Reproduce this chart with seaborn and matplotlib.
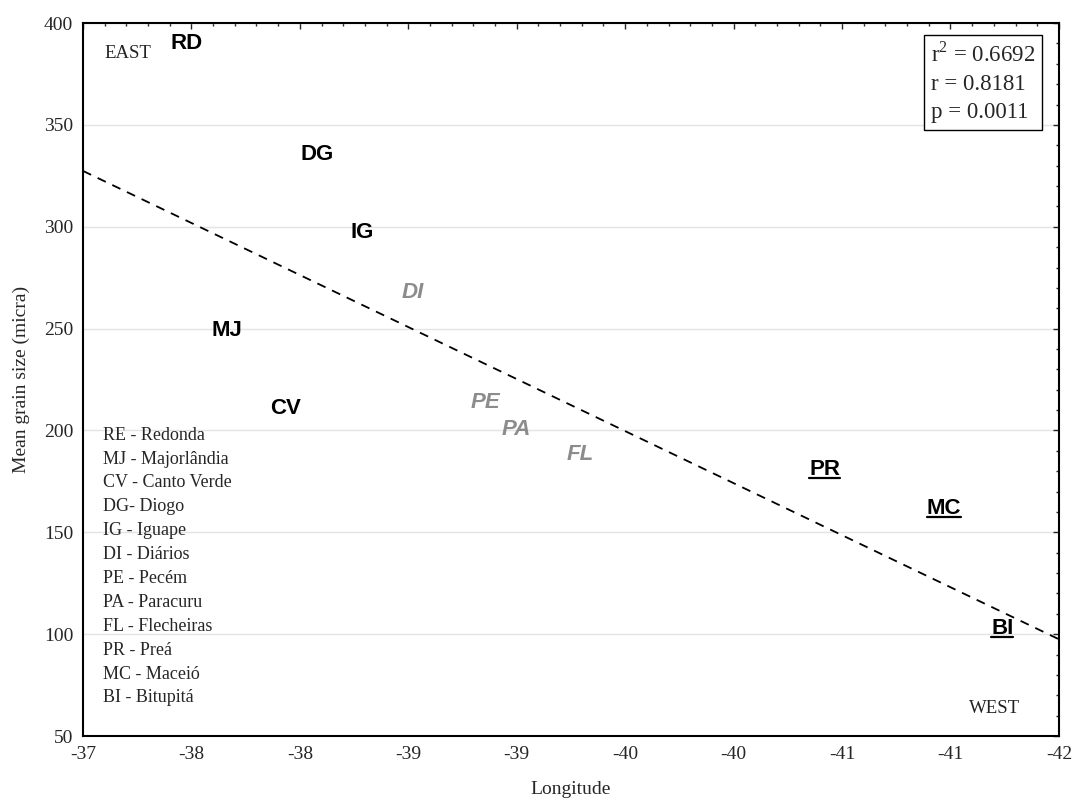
import numpy as np
import pandas as pd
import matplotlib
matplotlib.use("Agg")
import matplotlib.pyplot as plt
from matplotlib.lines import Line2D
from matplotlib.ticker import AutoMinorLocator
import seaborn as sns

# Данные: долгота и средний размер зерна по пляжам
codes = ['RD', 'MJ', 'CV', 'DG', 'IG', 'DI', 'PE', 'PA', 'FL', 'PR', 'MC', 'BI']
longitude = [-37.53, -37.74, -38.04, -38.20, -38.43, -38.69, -39.06, -39.22, -39.55, -40.80, -41.41, -41.71]
grain_size = [383.2, 242.5, 203.8, 328.8, 290.5, 261.1, 206.7, 193.5, 181.2, 173.9, 154.8, 96.0]
group = ['east', 'east', 'east', 'east', 'east', 'mid', 'mid', 'mid', 'mid', 'west', 'west', 'west']

legend_lines = ['RE - Redonda', 'MJ - Majorlândia', 'CV - Canto Verde', 'DG- Diogo',
                'IG - Iguape', 'DI - Diários', 'PE - Pecém', 'PA - Paracuru',
                'FL - Flecheiras', 'PR - Preá', 'MC - Maceió', 'BI - Bitupitá']
x_ticks = [-37 - 5 * i / 9 for i in range(10)]
x_tick_labels = ['-37', '-38', '-38', '-39', '-39', '-40', '-40', '-41', '-41', '-42']
y_ticks = [50, 100, 150, 200, 250, 300, 350, 400]
stats_text = 'r$^2$ = 0.6692\nr = 0.8181\np = 0.0011'

df = pd.DataFrame({'lon': longitude, 'size': grain_size, 'code': codes, 'group': group})

sns.set_style('white')
plt.rcParams['font.family'] = ['Liberation Serif', 'DejaVu Serif']
plt.rcParams['mathtext.fontset'] = 'custom'
plt.rcParams['mathtext.rm'] = 'Liberation Serif'

fig = plt.figure(figsize=(10.72, 8.01), dpi=100)
ax = fig.add_axes([0.0774, 0.0811, 0.9104, 0.8901])
ax.set_xlim(-37, -42)
ax.set_ylim(50, 400)

# Линия регрессии
sns.regplot(data=df, x='lon', y='size', scatter=False, ci=None, truncate=False, ax=ax,
            line_kws={'color': 'black', 'lw': 1.3, 'ls': (0, (5, 4))})

# Подписи точек
underlined = []
for _, row in df.iterrows():
    if row['group'] == 'mid':
        kw = dict(color='#8c8c8c', fontstyle='italic')
    else:
        kw = dict(color='black')
    t = ax.annotate(row['code'], (row['lon'], row['size']), xytext=(0, 10),
                    textcoords='offset points', ha='center', va='center', fontsize=16,
                    fontweight='bold', family='Liberation Sans', **kw)
    if row['group'] == 'west':
        underlined.append(t)

# Легенда сокращений
for i, line in enumerate(legend_lines):
    ax.text(0.0205, 0.422 - i * 0.0335, line, transform=ax.transAxes, fontsize=13,
            va='center', ha='left')

ax.text(0.0225, 0.958, 'EAST', transform=ax.transAxes, fontsize=13.5, va='center', color='#222222')
ax.text(0.934, 0.039, 'WEST', transform=ax.transAxes, fontsize=13.5, va='center', ha='center',
        color='#222222')

ax.text(0.869, 0.973, stats_text, transform=ax.transAxes, fontsize=16.5, va='top', ha='left',
        linespacing=1.45,
        bbox=dict(boxstyle='square,pad=0.3', facecolor='white', edgecolor='black', lw=1))

ax.set_xticks(x_ticks)
ax.set_xticklabels(x_tick_labels)
ax.set_yticks(y_ticks)
ax.xaxis.set_minor_locator(AutoMinorLocator(5))
ax.yaxis.set_minor_locator(AutoMinorLocator(5))
ax.tick_params(which='both', direction='in', top=True, right=True, labelsize=14, width=1)
ax.tick_params(which='major', length=4.5)
ax.tick_params(which='minor', length=2.5)
ax.tick_params(axis='x', pad=7)
ax.tick_params(axis='y', pad=7)
ax.grid(axis='y', color='#e3e3e3', lw=1)
ax.set_axisbelow(True)
for s in ax.spines.values():
    s.set_color('black')
    s.set_linewidth(1.5)

ax.set_xlabel('Longitude', fontsize=14, labelpad=13)
ax.set_ylabel('Mean grain size (micra)', fontsize=14, labelpad=10)

# Подчёркивание подписей западных пляжей
fig.canvas.draw()
inv = fig.transFigure.inverted()
for t in underlined:
    bb = t.get_window_extent()
    (x0, y0), (x1, _) = inv.transform([(bb.x0, bb.y0 + 2), (bb.x1, bb.y0 + 2)])
    fig.add_artist(Line2D([x0, x1], [y0, y0], transform=fig.transFigure, color='black', lw=1.6))

fig.savefig('out.png', dpi=100)
